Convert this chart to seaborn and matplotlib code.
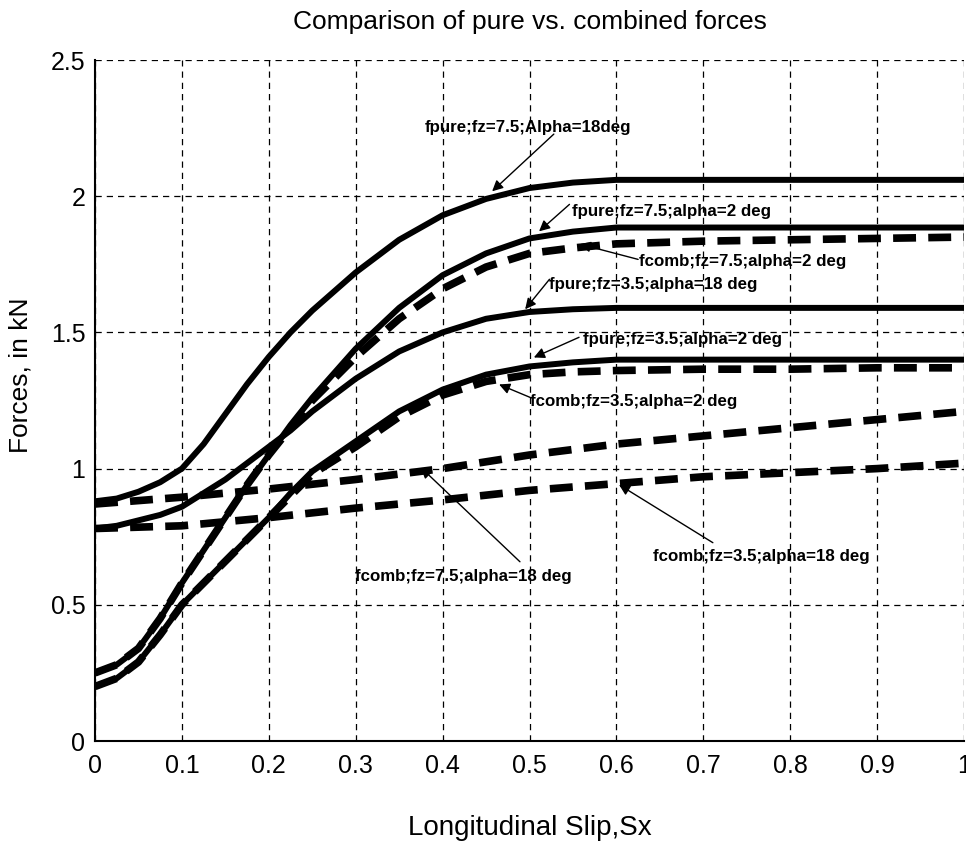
import numpy as np
import pandas as pd
import matplotlib
matplotlib.use("Agg")
import matplotlib.pyplot as plt
import seaborn as sns

# Longitudinal slip samples and force curves (kN)
slip_fast = [0, 0.025, 0.05, 0.075, 0.1, 0.125, 0.15, 0.175, 0.2, 0.225, 0.25,
             0.3, 0.35, 0.4, 0.45, 0.5, 0.55, 0.6, 0.7, 0.8, 0.9, 1.0]
slip_slow = [0, 0.1, 0.2, 0.3, 0.4, 0.5, 0.6, 0.7, 0.8, 0.9, 1.0]

fpure_75_a18 = [0.88, 0.89, 0.915, 0.95, 1.0, 1.09, 1.20, 1.31, 1.41, 1.50, 1.58,
                1.72, 1.84, 1.93, 1.99, 2.03, 2.05, 2.06, 2.06, 2.06, 2.06, 2.06]
fpure_75_a2 = [0.25, 0.28, 0.34, 0.45, 0.58, 0.70, 0.82, 0.94, 1.05, 1.16, 1.26,
               1.44, 1.59, 1.71, 1.79, 1.845, 1.87, 1.885, 1.885, 1.885, 1.885, 1.885]
fcomb_75_a2 = [0.25, 0.28, 0.34, 0.45, 0.58, 0.70, 0.82, 0.94, 1.05, 1.15, 1.25,
               1.41, 1.55, 1.66, 1.74, 1.79, 1.81, 1.825, 1.835, 1.84, 1.845, 1.85]
fpure_35_a18 = [0.78, 0.79, 0.81, 0.83, 0.86, 0.91, 0.96, 1.02, 1.08, 1.14, 1.21,
                1.33, 1.43, 1.50, 1.55, 1.575, 1.585, 1.59, 1.59, 1.59, 1.59, 1.59]
fpure_35_a2 = [0.20, 0.23, 0.29, 0.39, 0.50, 0.58, 0.66, 0.74, 0.82, 0.91, 0.99,
               1.10, 1.21, 1.29, 1.345, 1.375, 1.39, 1.40, 1.40, 1.40, 1.40, 1.40]
fcomb_35_a2 = [0.20, 0.23, 0.29, 0.39, 0.50, 0.58, 0.66, 0.74, 0.82, 0.90, 0.98,
               1.08, 1.19, 1.27, 1.32, 1.345, 1.355, 1.36, 1.365, 1.365, 1.37, 1.37]
fcomb_75_a18 = [0.87, 0.895, 0.925, 0.96, 1.0, 1.05, 1.09, 1.12, 1.15, 1.18, 1.21]
fcomb_35_a18 = [0.78, 0.79, 0.82, 0.855, 0.885, 0.92, 0.945, 0.97, 0.985, 1.0, 1.02]

x_ticks = [0, 0.1, 0.2, 0.3, 0.4, 0.5, 0.6, 0.7, 0.8, 0.9, 1]
x_ticklabels = ["0", "0.1", "0.2", "0.3", "0.4", "0.5", "0.6", "0.7", "0.8", "0.9", "1"]
y_ticks = [0, 0.5, 1, 1.5, 2, 2.5]
y_ticklabels = ["0", "0.5", "1", "1.5", "2", "2.5"]

# Annotation text, text anchor (left, centre), arrow start and arrow tip
labels = [
    ("fpure;fz=7.5;Alpha=18deg", (0.379, 2.254), (0.528, 2.228), (0.457, 2.018)),
    ("fpure;fz=7.5;alpha=2 deg", (0.549, 1.945), (0.546, 1.970), (0.511, 1.871)),
    ("fcomb;fz=7.5;alpha=2 deg", (0.626, 1.761), (0.625, 1.768), (0.558, 1.824)),
    ("fpure;fz=3.5;alpha=18 deg", (0.523, 1.676), (0.523, 1.695), (0.495, 1.585)),
    ("fpure;fz=3.5;alpha=2 deg", (0.562, 1.474), (0.557, 1.482), (0.505, 1.408)),
    ("fcomb;fz=3.5;alpha=2 deg", (0.501, 1.246), (0.501, 1.261), (0.465, 1.309)),
    ("fcomb;fz=7.5;alpha=18 deg", (0.299, 0.603), (0.489, 0.658), (0.375, 1.004)),
    ("fcomb;fz=3.5;alpha=18 deg", (0.642, 0.676), (0.711, 0.728), (0.603, 0.941)),
]

sns.set_theme(style="white")
plt.rcParams["font.family"] = ["Liberation Sans", "DejaVu Sans"]

fig = plt.figure(figsize=(9.66, 8.46), dpi=100)
fig.patch.set_facecolor("white")
ax = fig.add_axes([95 / 966, 1 - 741 / 846, 869 / 966, (741 - 60) / 846])
ax.set_facecolor("white")

solid_kw = dict(color="black", linewidth=4.3, solid_capstyle="butt")
dash_kw = dict(color="black", linewidth=5.5, linestyle=(0, (3.0, 1.6)),
               dash_capstyle="butt")

series = [
    (slip_fast, fpure_75_a18, solid_kw),
    (slip_fast, fpure_75_a2, solid_kw),
    (slip_fast, fpure_35_a18, solid_kw),
    (slip_fast, fpure_35_a2, solid_kw),
    (slip_fast, fcomb_75_a2, dash_kw),
    (slip_fast, fcomb_35_a2, dash_kw),
    (slip_slow, fcomb_75_a18, dash_kw),
    (slip_slow, fcomb_35_a18, dash_kw),
]
for xs, ys, kw in series:
    df = pd.DataFrame({"slip": xs, "force": ys})
    sns.lineplot(data=df, x="slip", y="force", ax=ax, sort=False,
                 estimator=None, **kw)

ax.set_xlim(0, 1)
ax.set_ylim(0, 2.5)
ax.set_xticks(x_ticks)
ax.set_xticklabels(x_ticklabels)
ax.set_yticks(y_ticks)
ax.set_yticklabels(y_ticklabels)
ax.tick_params(axis="both", direction="in", length=6, width=1, colors="black",
               labelsize=18, labelcolor="black")
ax.tick_params(axis="x", pad=9)
ax.tick_params(axis="y", pad=7)
ax.grid(True, color="black", linestyle=(0, (5, 4)), linewidth=0.9)
for side in ("top", "right"):
    ax.spines[side].set_visible(False)
for side in ("left", "bottom"):
    ax.spines[side].set_color("black")
    ax.spines[side].set_linewidth(1.5)

ax.set_title("Comparison of pure vs. combined forces", fontsize=19,
             color="black", pad=22)
ax.set_xlabel("Longitudinal Slip,Sx", fontsize=20, color="black")
ax.set_ylabel("Forces, in kN", fontsize=19, color="black")
ax.xaxis.set_label_coords(0.5, -0.108)
ax.yaxis.set_label_coords(-0.072, 0.537)

for text, (tx, ty), start, tip in labels:
    ax.text(tx, ty, text, ha="left", va="center", fontsize=12.2,
            fontweight="bold", color="black")
    ax.annotate("", xy=tip, xytext=start,
                arrowprops=dict(arrowstyle="-|>", color="black", lw=1.0,
                                mutation_scale=16, shrinkA=0, shrinkB=0))

fig.savefig("out.png", dpi=100, facecolor="white")
